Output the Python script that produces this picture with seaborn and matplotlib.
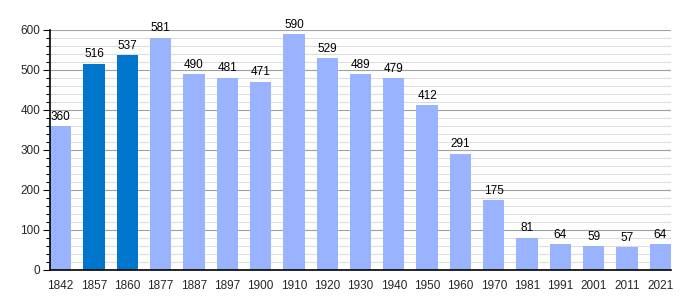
import matplotlib
matplotlib.use("Agg")
import matplotlib.pyplot as plt
import seaborn as sns
import pandas as pd
from matplotlib.ticker import MultipleLocator

years = ["1842", "1857", "1860", "1877", "1887", "1897", "1900", "1910", "1920", "1930",
         "1940", "1950", "1960", "1970", "1981", "1991", "2001", "2011", "2021"]
population = [360, 516, 537, 581, 490, 481, 471, 590, 529, 489,
              479, 412, 291, 175, 81, 64, 59, 57, 64]
highlight = ["1857", "1860"]

light = "#99b3ff"
dark = "#0077cc"

sns.set_theme(style="white")
plt.rcParams['font.family'] = ['Liberation Sans', 'DejaVu Sans']

df = pd.DataFrame({"year": years, "pop": population})
colors = [dark if y in highlight else light for y in years]

fig = plt.figure(figsize=(7, 3), dpi=100)
ax = fig.add_axes([50/700, 30/300, 621/700, 240/300])

sns.barplot(data=df, x="year", y="pop", hue="year", palette=colors, legend=False,
            width=0.64, ax=ax, saturation=1, linewidth=0, edgecolor="none", zorder=3)

ax.set_xlim(-0.32, len(years) - 1 + 0.32)
ax.set_ylim(0, 600)
ax.yaxis.set_major_locator(MultipleLocator(100))
ax.yaxis.set_minor_locator(MultipleLocator(20))
ax.grid(which="major", axis="y", color="#a0a0a0", linewidth=0.8, zorder=0)
ax.grid(which="minor", axis="y", color="#dddddd", linewidth=0.8, zorder=0)
ax.set_axisbelow(True)

for s in ["top", "right"]:
    ax.spines[s].set_visible(False)
for s in ["left", "bottom"]:
    ax.spines[s].set_color("black")
    ax.spines[s].set_linewidth(1.2)
    ax.spines[s].set_zorder(5)

ax.tick_params(axis="y", which="major", left=True, length=5, width=0.8, color="black",
               labelsize=8.5, pad=2)
ax.tick_params(axis="y", which="minor", left=True, length=3, width=0.8, color="black")
ax.tick_params(axis="x", bottom=False, labelsize=8.5, pad=1)
ax.set_xlabel("")
ax.set_ylabel("")

for i, v in enumerate(population):
    ax.text(i, v + 8, str(v), ha="center", va="bottom", fontsize=8.5, color="black")

fig.savefig("out.png", dpi=100)
